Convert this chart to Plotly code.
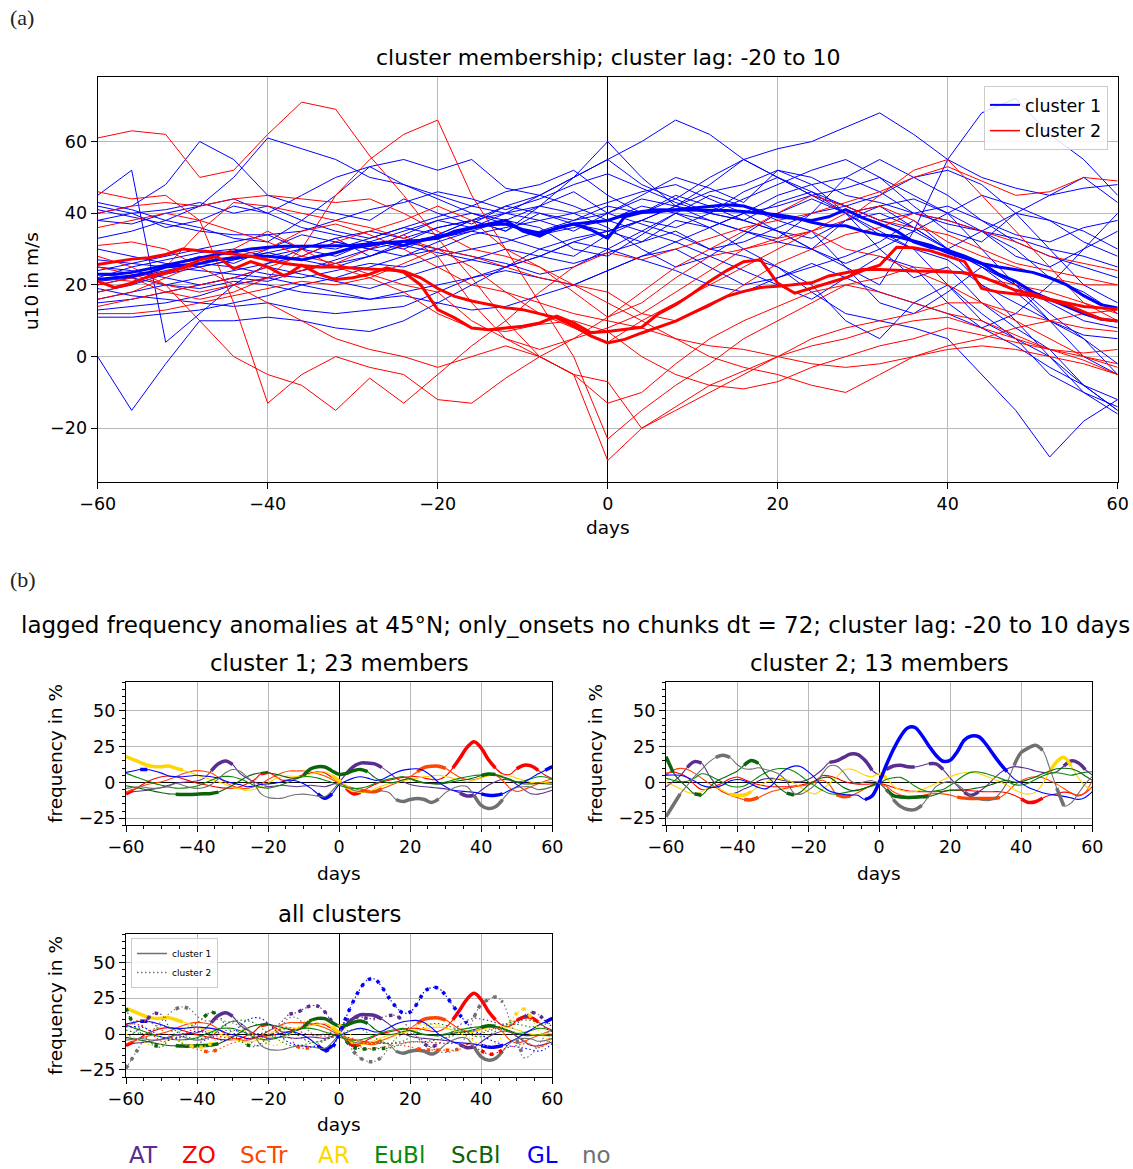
import plotly.graph_objects as go

W, H = 1133, 1169
FONT = "DejaVu Sans"

# ---------------- panel (a) data ----------------
days_m = list(range(-60, 61, 4))   # member trajectories (4-day samples)
days_t = list(range(-60, 61, 2))   # cluster mean / median (2-day samples)

c1_m01 = [0, -15, -2, 10, 10, 11, 10, 8, 7, 10, 15, 20, 25, 30, 33, 35, 32, 38, 36, 40, 35, 30, 38, 42, 36, 30, 25, 20, 12, 5, -2]
c1_m02 = [45, 52, 4, 12, 20, 26, 30, 33, 28, 32, 36, 38, 35, 42, 46, 40, 45, 50, 47, 43, 52, 48, 40, 30, 22, 25, 15, 8, 2, -8, -12]
c1_m03 = [40, 42, 48, 60, 55, 45, 42, 40, 38, 44, 40, 37, 42, 45, 50, 55, 48, 44, 40, 38, 43, 46, 40, 34, 30, 27, 20, 15, 10, 6, 5]
c1_m04 = [33, 35, 38, 42, 50, 61, 58, 55, 50, 48, 45, 42, 46, 48, 52, 45, 40, 44, 50, 55, 50, 46, 42, 38, 35, 40, 45, 42, 38, 35, 30]
c1_m05 = [42, 40, 36, 38, 42, 40, 45, 50, 53, 48, 44, 40, 38, 42, 50, 60, 50, 42, 38, 35, 33, 40, 50, 55, 50, 45, 38, 32, 28, 25, 22]
c1_m06 = [38, 40, 41, 43, 40, 42, 38, 35, 33, 36, 39, 42, 40, 45, 50, 55, 60, 66, 62, 55, 50, 45, 42, 45, 50, 52, 48, 40, 30, 20, 15]
c1_m07 = [24, 26, 28, 30, 32, 34, 30, 28, 32, 35, 38, 36, 40, 38, 35, 40, 44, 42, 48, 55, 58, 60, 64, 68, 62, 55, 50, 47, 45, 47, 48]
c1_m08 = [22, 25, 27, 29, 30, 28, 30, 33, 35, 33, 36, 38, 35, 40, 38, 42, 40, 45, 42, 38, 35, 30, 25, 20, 35, 55, 68, 72, 62, 55, 45]
c1_m09 = [20, 22, 25, 28, 26, 30, 34, 32, 30, 34, 38, 40, 37, 34, 36, 38, 42, 40, 36, 30, 25, 18, 12, 10, 8, 5, -5, -15, -28, -18, -12]
c1_m10 = [18, 20, 23, 25, 27, 29, 31, 30, 33, 36, 34, 38, 40, 42, 40, 36, 30, 25, 28, 34, 40, 44, 40, 35, 30, 20, 10, 5, 0, -8, -15]
c1_m11 = [16, 18, 20, 22, 24, 26, 28, 32, 30, 28, 32, 35, 38, 36, 30, 28, 34, 40, 45, 42, 38, 35, 25, 15, 12, 18, 25, 20, 10, 5, -5]
c1_m12 = [15, 16, 18, 20, 22, 21, 24, 27, 30, 32, 30, 34, 36, 38, 40, 43, 46, 48, 44, 40, 42, 45, 47, 50, 45, 40, 30, 20, 15, 10, 8]
c1_m13 = [13, 14, 15, 17, 20, 22, 24, 26, 28, 31, 33, 35, 33, 30, 28, 34, 38, 36, 40, 44, 48, 52, 55, 50, 42, 35, 32, 40, 45, 50, 43]
c1_m14 = [11, 11, 12, 13, 15, 17, 20, 22, 25, 28, 30, 28, 26, 23, 25, 30, 35, 40, 38, 35, 32, 30, 26, 30, 35, 30, 25, 18, 10, 0, -5]
c1_m15 = [25, 24, 22, 20, 22, 25, 23, 21, 19, 22, 25, 27, 30, 28, 26, 29, 32, 35, 30, 28, 25, 20, 10, 5, 15, 20, 12, 5, -5, -10, -16]
c1_m16 = [21, 22, 20, 19, 21, 20, 18, 17, 16, 18, 20, 22, 24, 22, 20, 24, 28, 30, 25, 20, 22, 25, 28, 32, 38, 30, 20, 10, 0, -10, -14]
c1_m17 = [19, 17, 16, 15, 14, 15, 13, 12, 13, 14, 18, 22, 25, 28, 32, 35, 38, 42, 46, 48, 52, 50, 45, 43, 40, 38, 35, 33, 30, 28, 25]
c1_m18 = [27, 26, 25, 24, 23, 22, 20, 18, 16, 17, 15, 13, 14, 17, 20, 24, 28, 32, 36, 40, 45, 48, 50, 46, 40, 37, 35, 30, 22, 18, 12]
c1_m19 = [23, 22, 24, 26, 25, 23, 22, 24, 26, 25, 28, 30, 32, 35, 38, 40, 37, 34, 30, 32, 36, 40, 42, 38, 40, 42, 38, 34, 32, 36, 38]
c1_m20 = [30, 28, 26, 25, 27, 29, 27, 25, 28, 31, 29, 27, 25, 28, 32, 30, 27, 24, 20, 18, 22, 26, 22, 18, 15, 12, 8, 3, -3, -8, -15]
c1_m21 = [38, 37, 40, 42, 44, 40, 36, 34, 32, 30, 34, 38, 42, 40, 37, 35, 38, 42, 40, 38, 35, 33, 38, 40, 36, 30, 35, 40, 38, 32, 28]
c1_m22 = [43, 41, 38, 36, 33, 32, 38, 45, 53, 55, 52, 55, 47, 45, 42, 38, 35, 32, 28, 24, 20, 16, 22, 28, 25, 15, 8, 12, 20, 30, 35]
c1_m23 = [41, 39, 37, 35, 34, 34, 35, 38, 41, 43, 46, 44, 41, 44, 48, 51, 47, 43, 40, 46, 50, 45, 40, 42, 44, 40, 35, 28, 25, 30, 40]

c2_m01 = [61, 63, 62, 50, 52, 62, 71, 69, 56, 45, 33, 22, 10, 0, -5, -13, -10, -2, 5, 10, 14, 18, 20, 18, 15, 12, 10, 6, 2, 0, -3]
c2_m02 = [20, 22, 18, 16, 18, 22, 30, 45, 55, 62, 66, 45, 30, 15, 0, -23, -15, -8, -2, 5, 10, 15, 20, 22, 25, 24, 22, 20, 18, 15, 12]
c2_m03 = [46, 44, 45, 38, 15, -13, -5, 0, -3, -5, -12, -13, -6, 0, 5, 11, 18, 25, 30, 35, 40, 45, 42, 38, 36, 34, 30, 26, 24, 22, 20]
c2_m04 = [28, 25, 20, 10, 0, -5, -8, -15, -6, -13, -5, 3, 10, 18, 25, 29, 27, 30, 33, 36, 38, 40, 43, 46, 50, 53, 49, 45, 46, 50, 49]
c2_m05 = [31, 32, 30, 25, 20, 15, 10, 5, 2, 0, -3, 0, 3, 0, -5, -29, -20, -15, -10, -5, 0, 5, 8, 10, 12, 15, 15, 12, 10, 8, 7]
c2_m06 = [22, 21, 23, 26, 28, 30, 35, 37, 34, 30, 25, 20, 18, 15, 12, 10, 8, 5, 3, 2, 0, -2, -3, -2, 0, 2, 3, 2, 0, -2, -5]
c2_m07 = [18, 20, 25, 35, 43, 42, 40, 38, 36, 33, 30, 28, 25, 22, 20, 18, 12, 10, 14, 20, 26, 30, 34, 36, 40, 38, 35, 32, 28, 26, 24]
c2_m08 = [14, 16, 18, 20, 22, 25, 28, 32, 35, 38, 42, 38, 30, 25, 20, 15, 10, 5, 0, -3, -5, -8, -10, -5, 0, 3, 5, 8, 10, 12, 13]
c2_m09 = [12, 12, 13, 15, 17, 19, 21, 20, 22, 18, 12, 8, 7, 9, 10, 7, 0, -5, -8, -9, -7, -3, 0, 3, 5, 8, 6, 4, 2, 1, 2]
c2_m10 = [40, 42, 43, 42, 44, 45, 44, 43, 44, 40, 35, 30, 28, 25, 18, 11, 15, 22, 28, 30, 33, 35, 30, 28, 24, 20, 15, 10, 5, 0, -2]
c2_m11 = [25, 23, 20, 18, 20, 22, 24, 26, 23, 20, 18, 10, 5, 0, -5, -7, -20, -14, -8, -4, 0, 3, 5, 8, 10, 11, 8, 5, 2, -1, -5]
c2_m12 = [16, 18, 22, 26, 30, 35, 30, 25, 22, 26, 30, 25, 18, 12, 8, 4, 10, 15, 20, 25, 30, 35, 40, 42, 38, 32, 28, 25, 22, 20, 20]
c2_m13 = [36, 38, 40, 38, 35, 32, 28, 26, 30, 34, 28, 15, 5, 2, 5, 8, 12, 18, 24, 30, 32, 35, 38, 45, 52, 55, 45, 35, 25, 15, 10]

c1_mean = [23, 23, 23.5, 24.5, 25.5, 26.5, 27.5, 28.5, 29.2, 30,
           30.5, 30.8, 30.8, 30.8, 30.8, 31, 31.5, 31.8, 32, 32.5,
           33.5, 34.5, 35.8, 36.8, 37, 35.5, 34.5, 35.8, 37, 37.5,
           38, 39.5, 40.5, 41, 41, 41, 41, 40.8, 40.5, 40,
           39.6, 38.8, 37.5, 36.5, 36.5, 35, 34, 33.5, 32.3, 31,
           29, 27.5, 26, 25, 24.2, 23.5, 22, 20, 17, 14.5, 13.6]
c1_median = [21.5, 22, 22.5, 23.5, 25, 25.5, 26, 27, 27.5, 28,
             28, 27.5, 27, 28, 29, 30.4, 31, 32, 31, 32.5,
             33, 35, 36, 37, 38, 35, 33.6, 36, 37, 35.4,
             33, 39, 40.2, 40.5, 41, 41.5, 42, 42.4, 42, 40.5,
             39, 38.5, 38, 39, 41, 38.7, 37, 35, 32, 30.4,
             29.7, 28, 26, 23, 21, 18, 16, 14, 12, 10.5, 9.9]
c2_mean = [25.7, 26.5, 27.2, 27.6, 28.5, 30, 29.6, 29, 28.6, 28,
           27, 26, 25.4, 25, 25, 24.8, 24.5, 24.2, 23.8, 22,
           19, 16.8, 15.5, 14.5, 13.6, 13.1, 12, 10.8, 8.5, 5.8,
           3.8, 4.8, 6.6, 8.3, 9.9, 12.2, 14.5, 16.8, 18.2, 19.3,
           19.6, 20.2, 20.6, 22.5, 23.5, 24.3, 24.3, 24, 23.9, 23.8,
           23.6, 23.4, 22.3, 20.5, 18.5, 17.5, 16, 15, 14, 13.6, 13.3]
c2_median = [21, 19.3, 20.5, 22.4, 23.5, 24.8, 27, 28, 24.5, 26.5,
             25, 22.5, 25.5, 23, 21.5, 22, 23, 24.8, 23.5, 20,
             13.1, 10.8, 8, 7.5, 8, 8.5, 9.4, 11.3, 9.4, 6.7,
             7, 7.5, 8.2, 12, 14.5, 17.6, 21, 24, 26.5, 27,
             20.5, 17.7, 19.2, 20.5, 22, 24, 25.5, 30.5, 30.4, 29.5,
             28, 26.5, 19, 18, 17.5, 17, 15.8, 14.5, 12.5, 10.5, 9.9]

# ---------------- panel (b) data ----------------
days_b = list(range(-60, 61, 2))
regimes = ["AT", "ZO", "ScTr", "AR", "EuBl", "ScBl", "GL", "no"]
regime_colors = ["#5c2d91", "#ff0000", "#ff4500", "#ffd700", "#0a8a0a", "#0b640b", "#0000ff", "#707070"]

AT_c1 = [-7, -6.5, -6, -5.5, -4.5, -3.5, -2, -0.5, 0, 0.5, 1, 3, 8, 13, 15, 12.5, 6.5, 3, 0.5, -1.5, -3, -2.5, -2, -2.5, -3, -2.5, -2, -2.5, -3, -1.5, 0.5, 6, 11, 13.5, 13.5, 13, 10.5, 7, 3, 0.5, -1.5, -2.5, -3, -3.5, -4, -4.5, -5.5, -7.5, -9.5, -9, -5.5, -2, 0.5, 2, 1.5, -1.5, -5, -8, -8.2, -7, -5.5]
ZO_c1 = [-8, -5.5, -2.5, 0.5, 2.5, 4, 4.5, 4, 2.5, 1, -0.5, -1.5, -2.5, -3.5, -4, -4, -3, -1, 1.5, 6, 7, 4.5, 1.5, 2, 3.5, 5.5, 6.5, 7.5, 6.5, 3.5, 0, -4, -8, -7, -4, -1.5, 0.5, 1.5, 2.5, 3.5, 4, 4, 3, 2, 2, 4.5, 10, 17, 24.5, 28.5, 24, 16, 10, 6, 5.5, 9.5, 12, 11.5, 8.5, 5, 2.8]
ScTr_c1 = [-7, -5, -3, -1.5, -0.5, 0.5, 2, 4, 6, 7.5, 8.2, 7.8, 6.5, 3.5, 0, -2.5, -4, -4.2, -3, -1, 2, 4.5, 6.8, 8, 8, 8, 7.3, 6, 4.5, 2, -0.5, -2.5, -4, -5.5, -6.3, -6.5, -4.5, -2.5, -0.5, 1.5, 4, 7.5, 10.5, 11.3, 11.3, 9.8, 6.5, 3.5, 2, 1.8, 3.5, 5.5, 5, 1.5, -4, -6.3, -5, -3, -1, 1, 2.8]
AR_c1 = [18, 16, 14, 12, 11, 11, 11.5, 10, 8.5, 7, 5, 3.5, 2, 0.5, -1.5, -3.5, -4.5, -5.5, -5, -3, -0.5, 2.5, 4, 4.5, 4, 4.5, 6, 7, 7.5, 5, 1, -3, -6, -7, -6.5, -4.5, -2.5, -1, 0, 1, 2, 3, 4, 4.5, 5, 4, 3, 1.5, 0.5, 1.5, 3, 4.5, 5, 5, 4.5, 3, 1.5, 0, -0.5, 0, 0.5]
EuBl_c1 = [6.5, 4.5, 2.8, 1, -0.7, -2, -3.2, -4, -4, -3.5, -2.5, -0.5, 1.5, 3.5, 4.2, 4, 2.5, 0.5, -2, -3.5, -4, -3, -1.5, 0.5, 2.5, 4, 4, 3, 1.5, 0, -2, -3.5, -4.2, -4, -2.8, -0.8, 1, 2.3, 3.2, 4, 2.5, 0.5, -0.5, -0.8, -0.7, 0.3, 1.6, 3, 4, 4.8, 5.2, 5.7, 5, 3.5, 1.8, 0.5, 1, 2.5, 4, 3.8, 2]
ScBl_c1 = [-2.3, -3.2, -4.2, -5.2, -6.3, -7.2, -8, -8.2, -8.4, -8.4, -8.2, -8, -7.7, -6.8, -4.5, -2, 1, 4, 5.8, 6.8, 6.8, 5.8, 4.5, 3.2, 3, 5, 9.5, 11, 10.8, 8, 5.6, 6.3, 8.2, 9.1, 7.5, 3.5, 0.8, -0.2, 0.2, 1.8, 2.5, 1.2, -0.2, -0.9, -1.2, -0.5, 0.5, 1.3, 2, 3.2, 4.8, 5.8, 5.5, 4, 2.3, 0.2, -1, -1, -0.7, -0.9, -1.2]
GL_c1 = [7, 8, 9, 9, 8, 6.5, 4.5, 4, 4, 4.5, 5, 4.5, 4, 3, 1, -0.5, -1.5, -3, -2.5, -1.5, -1, -0.5, 0.5, 1.5, 1, -1, -4, -8, -11, -8, -1.5, 1, 3, 4, 3, 1.5, 2, 4.5, 7, 8.6, 9.3, 9.5, 8, 4.5, 0, -3, -5.5, -6, -6.5, -7, -8, -9, -9, -8, -5.5, -3, 0, 3, 6, 8.5, 11]
no_c1 = [-4.2, -3.5, -3, -3.8, -4.2, -3.8, -2.8, -0.8, -2, -3.5, -4.2, -3.5, -1.5, 2.5, 6.8, 9, 8, 4, -0.7, -8, -10.5, -11.2, -11, -9.5, -8.5, -8.2, -8.8, -9.6, -10, -6, -1, -2.8, -5.5, -6.5, -6.5, -6.5, -6, -7, -12, -13.4, -12, -11.3, -12, -14, -11.5, -7, -4.2, -2.5, -3, -9, -16, -18.2, -17, -12, -6.5, -3.5, -3, -3.2, -5, -4.5, -3]

AT_c2 = [-3, 0.5, 4.5, 10.5, 14.5, 13.5, 5.5, -1.5, -6.5, -8.2, -7, -4.5, -2.5, 1, 2.5, 2.8, 1.8, 1, 0.5, 0.5, 2, 5, 9, 14, 15, 17.5, 19.8, 19.5, 15.5, 8.5, 5.5, 9, 11.5, 12, 11, 10.8, 11.8, 13, 13, 9, 3, -2.5, -7, -9, -6.5, -3, 2, 6.5, 9.5, 11, 10.5, 9.5, 8, 7, 6.5, 7.5, 11.5, 15, 13.8, 9, 5.1]
ZO_c2 = [6.3, 7.3, 6, 3.5, -1.5, -5, -4.5, -2.5, -0.3, 2.5, 3.8, 2, 0, -1.5, -2.5, -3, -3, -3, -2.5, -1.8, -0.7, 1.2, 4.7, 4.5, 3, 0.8, -0.5, -1.2, -1.3, -1, -0.7, -1.8, -3.5, -4.8, -5.8, -6.3, -6.5, -6.5, -6.5, -6.2, -5.4, -5.4, -5.6, -5.8, -6.3, -6.5, -6.5, -6.5, -7.2, -9, -11.5, -14, -13.5, -11, -9, -8, -6.8, -7.5, -9.5, -7.5, -3]
ScTr_c2 = [5.1, 8.5, 9.8, 9, 6.5, 3, -0.5, -3.5, -6.8, -9, -10.5, -12, -12.2, -10.5, -8.3, -6.2, -5, -4, -3.2, -2.5, -1.6, 0, 1.5, -1.5, -8.5, -10, -9.3, -7, -4.5, -2, -0.7, -2.7, -6.5, -8.8, -10, -9.8, -9.2, -8.2, -7.8, -8, -8.9, -10.3, -11, -11.2, -11.2, -11.2, -11.2, -10.5, -7, -2, 1.2, 3.2, 4, 3.2, 1.2, -1.2, -4.3, -7.3, -8.9, -7, 1.6]
AR_c2 = [0, -2, -4.5, -6.8, -8, -6.5, -3.8, -3.5, -5.8, -8.2, -9, -8.8, -6.5, -2.8, 0, 2, 2.8, 2, -0.5, -3.5, -6.8, -8, -5, -0.8, 3.5, 8.5, 9.3, 7.5, 5, 4, 6.3, 3.2, -2.5, -5.5, -6.5, -6.5, -5, -3, -0.7, 1.8, 4, 5.8, 6.8, 7, 6.3, 4.5, 2.5, 0.5, -2, -5, -7.3, -8.2, -6.8, -1, 7.5, 14.5, 17.5, 11.5, 3.5, -2.5, -5.4]
EuBl_c2 = [2.8, 1.5, 0.5, 0.8, 3, 6, 5, 2.5, 0, -2.5, -3.2, -2.5, 0.5, 3.8, 6.8, 8.8, 9.7, 9.5, 7.8, 4.5, 0.5, -2.5, -5.5, -7.8, -8.2, -7.3, -6.3, -5.4, -4, -2.5, -0.7, 2, 3.2, 3.5, 1, -2.5, -5.2, -6.5, -5.8, -4.9, -2, 1.5, 5, 7.2, 7.3, 6.2, 4.6, 3, 1, -1.5, -1.8, -0.5, 2, 4.5, 6.3, 6.8, 6, 5, 6, 7, 7.5]
ScBl_c2 = [18, 7, 1, -3.5, -8, -9, -4, 0.5, 3, 5.3, 7.8, 12, 15.3, 13.3, 6, 0.5, -4.2, -7.5, -8.8, -6.5, -2, 1, 3.2, 3.5, 0, -3.5, -5.5, -5.4, -4, -2, -0.7, -5, -9.2, -10.2, -10.5, -10.3, -10, -9.8, -8.5, -6.5, -5.6, -5.4, -5.2, -4.6, -3.7, -2.8, -1.2, 0.5, 1.4, 0.2, 0.5, 2, 3.8, 6, 8, 9.5, 9.9, 9.6, 7.8, 4.5, 1.6]
GL_c2 = [5.1, 5.2, 5, 3.5, 1, -2, -3.3, -3.3, -1.8, 1, 2, 1.2, -1.2, -3.5, -4.5, -1.5, 5.5, 9.5, 11.4, 11, 7.5, 3, -2.5, -6, -7.5, -8.5, -8.9, -9, -12, -9.5, 0, 12, 23, 32, 38, 38.5, 33, 25.5, 19, 14.8, 15.5, 21.5, 29.7, 32.5, 32, 27, 20, 13.3, 7.5, 2.5, -0.5, -3.5, -5.5, -7.2, -8.3, -9, -9.8, -10.8, -11.9, -10.5, -6.5]
no_c2 = [-24, -16, -8, -2, 4, 9, 14, 17.5, 19, 17.5, 12.5, 9.5, 9.3, 10.2, 9, 7.8, 5.5, 0.5, -7.5, -8.2, -5.5, -1.5, 6, 11.5, 11.5, 7, 1, -0.8, 0.5, 1.2, -0.7, -5, -12, -16.8, -19, -19, -16, -9.5, -3, -0.3, 0.5, -1.5, -5.5, -9.5, -12, -12.8, -12, -7.5, 0, 12, 21, 24, 26, 22.5, 10, -4, -16.5, -14.5, -8, -1, 4]

# significant periods (day intervals, inclusive)
sig_AT_c1 = [(-36, -30), (2, 12), (34, 38)]
sig_ZO_c1 = [(-60, -58), (-22, -20), (2, 6), (32, 44), (50, 56)]
sig_ScTr_c1 = [(6, 12), (22, 30)]
sig_AR_c1 = [(-60, -44), (-2, 4)]
sig_EuBl_c1 = []
sig_ScBl_c1 = [(-46, -34), (-10, 0), (2, 8), (40, 44)]
sig_GL_c1 = [(-56, -54), (-6, -2), (40, 46), (58, 60)]
sig_no_c1 = [(16, 28), (38, 46)]

sig_AT_c2 = [(-54, -50), (-14, -2), (2, 10), (14, 18), (24, 28), (52, 58)]
sig_ZO_c2 = [(40, 46)]
sig_ScTr_c2 = [(-38, -34), (-12, -8), (22, 34)]
sig_AR_c2 = [(-42, -36), (0, 2), (48, 54)]
sig_EuBl_c2 = []
sig_ScBl_c2 = [(-60, -58), (-52, -50), (-38, -34), (-26, -24), (2, 14)]
sig_GL_c2 = [(-4, 36)]
sig_no_c2 = [(-60, -56), (-46, -42), (4, 12), (38, 46), (50, 52)]

c1_members = [c1_m01, c1_m02, c1_m03, c1_m04, c1_m05, c1_m06, c1_m07, c1_m08, c1_m09, c1_m10, c1_m11, c1_m12,
              c1_m13, c1_m14, c1_m15, c1_m16, c1_m17, c1_m18, c1_m19, c1_m20, c1_m21, c1_m22, c1_m23]
c2_members = [c2_m01, c2_m02, c2_m03, c2_m04, c2_m05, c2_m06, c2_m07, c2_m08, c2_m09, c2_m10, c2_m11, c2_m12, c2_m13]
c1_series = [AT_c1, ZO_c1, ScTr_c1, AR_c1, EuBl_c1, ScBl_c1, GL_c1, no_c1]
c2_series = [AT_c2, ZO_c2, ScTr_c2, AR_c2, EuBl_c2, ScBl_c2, GL_c2, no_c2]
c1_sig = [sig_AT_c1, sig_ZO_c1, sig_ScTr_c1, sig_AR_c1, sig_EuBl_c1, sig_ScBl_c1, sig_GL_c1, sig_no_c1]
c2_sig = [sig_AT_c2, sig_ZO_c2, sig_ScTr_c2, sig_AR_c2, sig_EuBl_c2, sig_ScBl_c2, sig_GL_c2, sig_no_c2]

for m in c1_members + c2_members:
    assert len(m) == len(days_m), len(m)
for s in [c1_mean, c1_median, c2_mean, c2_median] + c1_series + c2_series:
    assert len(s) == len(days_t), len(s)

# ---------------- figure ----------------
fig = go.Figure()
BLUE, RED = "#0000ff", "#ff0000"

for m in c1_members:
    fig.add_trace(go.Scatter(x=days_m, y=m, mode="lines", line=dict(color=BLUE, width=1),
                             showlegend=False, hoverinfo="skip", xaxis="x", yaxis="y"))
for m in c2_members:
    fig.add_trace(go.Scatter(x=days_m, y=m, mode="lines", line=dict(color=RED, width=1),
                             showlegend=False, hoverinfo="skip", xaxis="x", yaxis="y"))
for s in [c1_mean, c1_median]:
    fig.add_trace(go.Scatter(x=days_t, y=s, mode="lines", line=dict(color=BLUE, width=3),
                             showlegend=False, hoverinfo="skip", xaxis="x", yaxis="y"))
for s in [c2_mean, c2_median]:
    fig.add_trace(go.Scatter(x=days_t, y=s, mode="lines", line=dict(color=RED, width=3),
                             showlegend=False, hoverinfo="skip", xaxis="x", yaxis="y"))
# legend entries for panel (a)
fig.add_trace(go.Scatter(x=[None], y=[None], mode="lines", line=dict(color=BLUE, width=2),
                         name="cluster 1", xaxis="x", yaxis="y", legend="legend"))
fig.add_trace(go.Scatter(x=[None], y=[None], mode="lines", line=dict(color=RED, width=1.5),
                         name="cluster 2", xaxis="x", yaxis="y", legend="legend"))


def sig_mask(vals, sig):
    out = []
    for d, v in zip(days_b, vals):
        out.append(v if any(a <= d <= b for a, b in sig) else None)
    return out


def add_regime_lines(series, sigs, xa, ya, dotted=False):
    for vals, sig, col in zip(series, sigs, regime_colors):
        thin = dict(color=col, width=1.1, shape="spline")
        thick = dict(color=col, width=3.5, shape="spline")
        if dotted:
            thin["dash"] = "1.5px,2.5px"
            thick["dash"] = "3.5px,6px"
        fig.add_trace(go.Scatter(x=days_b, y=vals, mode="lines", line=thin,
                                 showlegend=False, hoverinfo="skip", xaxis=xa, yaxis=ya))
        fig.add_trace(go.Scatter(x=days_b, y=sig_mask(vals, sig), mode="lines", line=thick,
                                 connectgaps=False, showlegend=False, hoverinfo="skip",
                                 xaxis=xa, yaxis=ya))


add_regime_lines(c1_series, c1_sig, "x2", "y2")
add_regime_lines(c2_series, c2_sig, "x3", "y3")
add_regime_lines(c1_series, c1_sig, "x4", "y4")
add_regime_lines(c2_series, c2_sig, "x4", "y4", dotted=True)

fig.add_trace(go.Scatter(x=[None], y=[None], mode="lines", line=dict(color="#707070", width=1.5),
                         name="cluster 1", xaxis="x4", yaxis="y4", legend="legend2"))
fig.add_trace(go.Scatter(x=[None], y=[None], mode="lines", line=dict(color="#707070", width=1.5, dash="1.5px,2.5px"),
                         name="cluster 2", xaxis="x4", yaxis="y4", legend="legend2"))


def px(xp, yp):
    return xp / W, 1 - yp / H


GRID = "#b8b8b8"
tickfont = dict(family=FONT, size=17.5, color="black")

main_x = dict(domain=[97.7 / W, 1117.7 / W], anchor="y", range=[-60, 60], automargin=False,
              tickvals=[-60, -40, -20, 0, 20, 40, 60], ticks="outside", ticklen=6, tickcolor="black",
              showgrid=True, gridcolor=GRID, gridwidth=1, zeroline=True, zerolinecolor="black",
              zerolinewidth=1, showline=True, linecolor="black", linewidth=1.3, mirror=True,
              tickfont=tickfont)
main_y = dict(domain=[1 - 481.7 / H, 1 - 76.7 / H], anchor="x", range=[-34.9, 78.1], automargin=False,
              tickvals=[-20, 0, 20, 40, 60], ticks="outside", ticklen=6, tickcolor="black",
              showgrid=True, gridcolor=GRID, gridwidth=1, zeroline=False,
              showline=True, linecolor="black", linewidth=1.3, mirror=True, tickfont=tickfont)


def b_axes(x0, x1, y0, y1, anchor_x, anchor_y):
    xa = dict(domain=[x0 / W, x1 / W], anchor=anchor_y, range=[-60, 60], automargin=False,
              tickvals=[-60, -40, -20, 0, 20, 40, 60], ticks="outside", ticklen=6, tickcolor="black",
              minor=dict(dtick=5, tick0=0, ticks="outside", ticklen=3, tickcolor="black", showgrid=False),
              showgrid=True, gridcolor=GRID, zeroline=True, zerolinecolor="black", zerolinewidth=1,
              showline=True, linecolor="black", linewidth=1.3, mirror=True, tickfont=tickfont)
    ya = dict(domain=[1 - y1 / H, 1 - y0 / H], anchor=anchor_x, range=[-30, 70], automargin=False,
              tickvals=[-25, 0, 25, 50], ticks="outside", ticklen=6, tickcolor="black",
              minor=dict(dtick=5, tick0=0, ticks="outside", ticklen=3, tickcolor="black", showgrid=False),
              showgrid=True, gridcolor=GRID, zeroline=True, zerolinecolor="black", zerolinewidth=1,
              showline=True, linecolor="black", linewidth=1.3, mirror=True, tickfont=tickfont)
    return xa, ya


x2, y2 = b_axes(126, 552.3, 682.3, 825.3, "x2", "y2")
x3, y3 = b_axes(666, 1092.3, 682.3, 825.3, "x3", "y3")
x4, y4 = b_axes(126, 552.3, 934, 1077, "x4", "y4")

annotations = []


def txt(text, xp, yp, size, color="black", family=FONT, xanchor="center", angle=0):
    x, y = px(xp, yp)
    annotations.append(dict(text=text, x=x, y=y, xref="paper", yref="paper", showarrow=False,
                            xanchor=xanchor, yanchor="middle", textangle=angle,
                            font=dict(family=family, size=size, color=color)))


txt("(a)", 8, 18, 22, color="#222222", family="Liberation Serif", xanchor="left")
txt("(b)", 8, 580, 22, color="#222222", family="Liberation Serif", xanchor="left")
txt("cluster membership; cluster lag: -20 to 10", 607.7, 58, 22)
txt("days", 607.7, 527, 18.5)
txt("u10 in m/s", 31, 281, 18.5, angle=-90)
txt("lagged frequency anomalies at 45°N; only_onsets no chunks dt = 72; cluster lag: -20 to 10 days",
    575, 625, 23)
txt("cluster 1; 23 members", 339, 663, 22.8)
txt("cluster 2; 13 members", 879, 663, 22.8)
txt("all clusters", 339, 914, 22.8)
for cx in (339, 879):
    txt("days", cx, 873, 18.5)
txt("days", 339, 1124, 18.5)
txt("frequency in %", 55, 754, 18.5, angle=-90)
txt("frequency in %", 595, 754, 18.5, angle=-90)
txt("frequency in %", 55, 1006, 18.5, angle=-90)

label_left = [127, 180, 238, 316, 372, 449, 525, 580]
for name, col, lx in zip(regimes, regime_colors, label_left):
    txt(name, lx, 1155, 23, color=col, xanchor="left")

lx, ly = px(1108, 86)
l2x, l2y = px(131, 938)
fig.update_layout(
    width=W, height=H, margin=dict(l=0, r=0, t=0, b=0, autoexpand=False),
    paper_bgcolor="white", plot_bgcolor="white",
    font=dict(family=FONT, color="black"),
    xaxis=main_x, yaxis=main_y, xaxis2=x2, yaxis2=y2, xaxis3=x3, yaxis3=y3, xaxis4=x4, yaxis4=y4,
    annotations=annotations,
    legend=dict(x=lx, y=ly, xanchor="right", yanchor="top", bgcolor="rgba(255,255,255,0.85)",
                bordercolor="#cccccc", borderwidth=1, font=dict(family=FONT, size=17.5)),
    legend2=dict(x=l2x, y=l2y, xanchor="left", yanchor="top", bgcolor="rgba(255,255,255,0.85)",
                 bordercolor="#cccccc", borderwidth=1, font=dict(family=FONT, size=9)),
)

fig.write_html("out.html")
